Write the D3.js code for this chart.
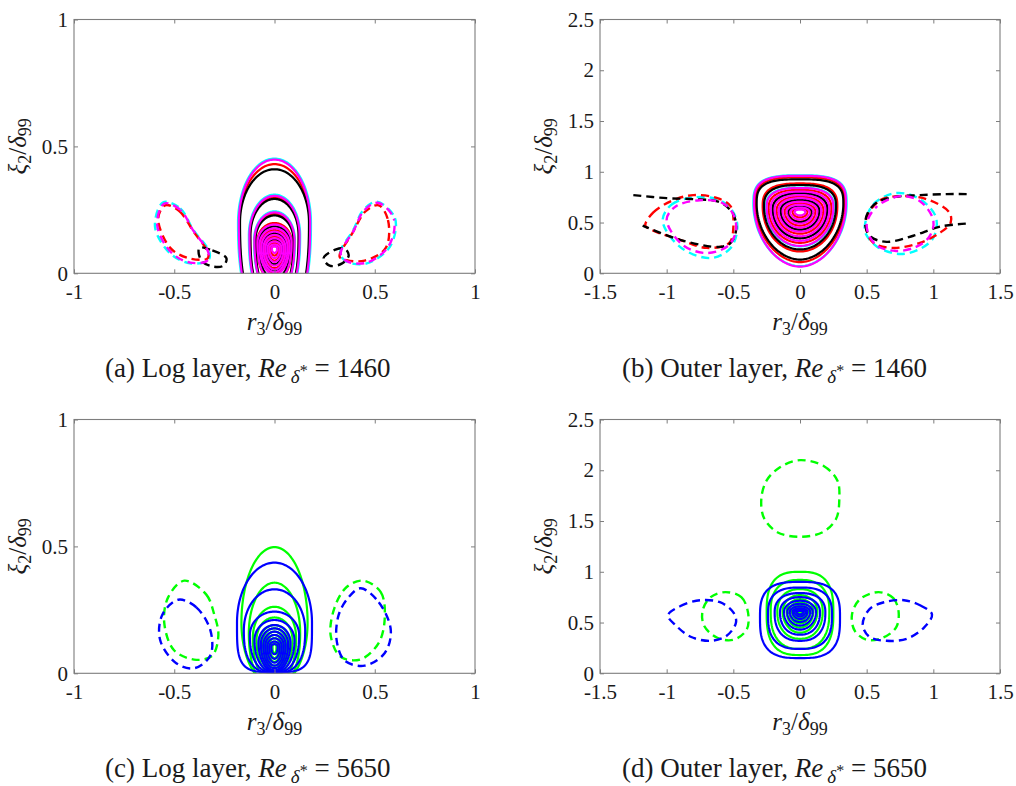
<!DOCTYPE html>
<html>
<head>
<meta charset="utf-8">
<script src="https://cdn.jsdelivr.net/npm/d3@7"></script>
<style>
  body { margin: 0; background: #fff; }
  svg { display: block; }
</style>
</head>
<body>
<svg id="fig" width="1016" height="786"></svg>
<script>
// ---------------- axis ticks ----------------
const logXTicks = [-1, -0.5, 0, 0.5, 1];
const logYTicks = [0, 0.5, 1];
const outerXTicks = [-1.5, -1, -0.5, 0, 0.5, 1, 1.5];
const outerYTicks = [0, 0.5, 1, 1.5, 2, 2.5];

// ---------------- captions ----------------
const captionLetters = ["(a)", "(b)", "(c)", "(d)"];
const captionLayers = ["Log layer", "Outer layer", "Log layer", "Outer layer"];
const captionRe = [1460, 1460, 5650, 5650];

// ---------------- contour data ----------------
// positive contours: [half width, height of widest point, top, bottom, top squareness, bottom squareness]
// negative contours: closed point lists [r3, xi2]

// (a) log layer, Re = 1460
const aRingsCyan = [
  [0.182, 0.20, 0.452, -0.20, 2, 2.4],
  [0.128, 0.15, 0.310, -0.12, 2, 2.4],
  [0.102, 0.13, 0.244, -0.08, 2, 2.3]
];
const aRingsRed = [
  [0.175, 0.20, 0.430, -0.20, 2, 2.4],
  [0.122, 0.15, 0.300, -0.12, 2, 2.4],
  [0.098, 0.13, 0.235, -0.08, 2, 2.3],
  [0.087, 0.12, 0.198, -0.03, 2, 2.2],
  [0.070, 0.11, 0.170, 0.000, 2, 2],
  [0.060, 0.105, 0.157, 0.010, 2, 2],
  [0.050, 0.10, 0.145, 0.020, 2, 2],
  [0.040, 0.10, 0.132, 0.035, 2, 2],
  [0.030, 0.10, 0.120, 0.050, 2, 2],
  [0.020, 0.10, 0.110, 0.070, 2, 2]
];
const aRingsBlack = [
  [0.172, 0.20, 0.410, -0.20, 2, 2.4],
  [0.120, 0.15, 0.293, -0.12, 2, 2.4],
  [0.095, 0.13, 0.228, -0.08, 2, 2.3],
  [0.080, 0.115, 0.185, -0.02, 2, 2.1],
  [0.060, 0.105, 0.160, 0.010, 2, 2],
  [0.040, 0.10, 0.135, 0.035, 2, 2]
];
const aRingsMagenta = [
  [0.178, 0.20, 0.448, -0.20, 2, 2.4],
  [0.125, 0.15, 0.305, -0.12, 2, 2.4],
  [0.100, 0.13, 0.240, -0.08, 2, 2.3],
  [0.085, 0.12, 0.192, -0.03, 2, 2.2],
  [0.075, 0.11, 0.177, -0.005, 2, 2],
  [0.065, 0.105, 0.164, 0.005, 2, 2],
  [0.055, 0.10, 0.151, 0.015, 2, 2],
  [0.045, 0.10, 0.138, 0.030, 2, 2],
  [0.035, 0.10, 0.125, 0.045, 2, 2],
  [0.025, 0.10, 0.113, 0.060, 2, 2],
  [0.013, 0.10, 0.105, 0.080, 2, 2]
];
const aLobesCyan = [
  [[-0.555, 0.28], [-0.47, 0.256], [-0.405, 0.171], [-0.325, 0.085], [-0.33, 0.052], [-0.421, 0.039], [-0.521, 0.079], [-0.596, 0.184]],
  [[0.51, 0.282], [0.601, 0.217], [0.576, 0.105], [0.46, 0.039], [0.36, 0.046], [0.327, 0.079], [0.393, 0.171], [0.443, 0.249]]
];
const aLobesRed = [
  [[-0.545, 0.268], [-0.475, 0.245], [-0.40, 0.16], [-0.33, 0.08], [-0.335, 0.058], [-0.43, 0.06], [-0.52, 0.10], [-0.58, 0.215]],
  [[0.52, 0.268], [0.566, 0.21], [0.555, 0.10], [0.45, 0.05], [0.36, 0.052], [0.325, 0.065], [0.39, 0.16], [0.455, 0.245]]
];
const aLobesMagenta = [
  [[-0.55, 0.275], [-0.47, 0.25], [-0.405, 0.168], [-0.33, 0.082], [-0.335, 0.05], [-0.42, 0.042], [-0.515, 0.082], [-0.585, 0.19]],
  [[0.515, 0.278], [0.595, 0.215], [0.57, 0.108], [0.46, 0.042], [0.36, 0.048], [0.33, 0.078], [0.395, 0.168], [0.445, 0.246]]
];
const aLobesBlack = [
  [[-0.375, 0.10], [-0.31, 0.09], [-0.24, 0.06], [-0.255, 0.03], [-0.31, 0.027], [-0.365, 0.05]],
  [[0.245, 0.06], [0.30, 0.092], [0.35, 0.098], [0.37, 0.07], [0.335, 0.038], [0.275, 0.03]]
];

// (b) outer layer, Re = 1460
const bRingsCyan = [
  [0.350, 0.68, 0.965, 0.070, 3.2, 1.9],
  [0.255, 0.65, 0.845, 0.265, 2.6, 2]
];
const bRingsRed = [
  [0.335, 0.68, 0.945, 0.110, 3.2, 1.9],
  [0.280, 0.66, 0.885, 0.215, 2.8, 2],
  [0.235, 0.64, 0.822, 0.300, 2.5, 2],
  [0.205, 0.63, 0.787, 0.345, 2.3, 2],
  [0.175, 0.62, 0.755, 0.390, 2.2, 2],
  [0.145, 0.615, 0.720, 0.430, 2.1, 2],
  [0.115, 0.61, 0.690, 0.470, 2, 2],
  [0.085, 0.607, 0.660, 0.510, 2, 2],
  [0.055, 0.607, 0.637, 0.550, 2, 2]
];
const bRingsBlack = [
  [0.325, 0.68, 0.925, 0.135, 3.2, 1.9],
  [0.270, 0.66, 0.870, 0.235, 2.7, 2],
  [0.205, 0.63, 0.790, 0.345, 2.3, 2],
  [0.145, 0.615, 0.725, 0.430, 2.1, 2],
  [0.090, 0.607, 0.665, 0.505, 2, 2]
];
const bRingsMagenta = [
  [0.345, 0.68, 0.960, 0.065, 3.2, 1.9],
  [0.250, 0.65, 0.840, 0.270, 2.6, 2],
  [0.220, 0.64, 0.805, 0.320, 2.4, 2],
  [0.190, 0.63, 0.770, 0.365, 2.3, 2],
  [0.160, 0.62, 0.740, 0.410, 2.2, 2],
  [0.130, 0.615, 0.705, 0.450, 2.1, 2],
  [0.100, 0.61, 0.675, 0.490, 2, 2],
  [0.070, 0.607, 0.648, 0.530, 2, 2],
  [0.040, 0.607, 0.628, 0.570, 2, 2]
];
const bLobesCyan = [
  [[-1.03, 0.52], [-0.96, 0.68], [-0.78, 0.75], [-0.6, 0.72], [-0.5, 0.6], [-0.47, 0.45], [-0.52, 0.25], [-0.67, 0.15], [-0.9, 0.26]],
  [[0.49, 0.5], [0.55, 0.68], [0.72, 0.79], [0.9, 0.73], [1.02, 0.55], [1.0, 0.35], [0.9, 0.24], [0.75, 0.19], [0.58, 0.26], [0.49, 0.4]]
];
const bLobesRed = [
  [[-1.16, 0.47], [-1.1, 0.6], [-0.95, 0.72], [-0.8, 0.77], [-0.62, 0.74], [-0.52, 0.66], [-0.5, 0.45], [-0.53, 0.3], [-0.7, 0.25], [-0.9, 0.33], [-1.1, 0.42]],
  [[0.5, 0.55], [0.6, 0.72], [0.75, 0.76], [0.95, 0.73], [1.12, 0.6], [1.13, 0.5], [1.05, 0.4], [0.9, 0.3], [0.7, 0.25], [0.55, 0.3], [0.5, 0.42]]
];
const bLobesMagenta = [
  [[-1.0, 0.53], [-0.93, 0.66], [-0.75, 0.72], [-0.58, 0.69], [-0.5, 0.58], [-0.48, 0.42], [-0.54, 0.27], [-0.7, 0.2], [-0.88, 0.28]],
  [[0.5, 0.47], [0.57, 0.65], [0.75, 0.76], [0.9, 0.71], [1.0, 0.52], [0.97, 0.36], [0.87, 0.26], [0.72, 0.22], [0.57, 0.28]]
];
// open negative contours (reaching the sides of the domain)
const bOpenBlack = [
  [[-1.25, 0.77], [-1.0, 0.74], [-0.8, 0.73], [-0.6, 0.7], [-0.5, 0.58], [-0.48, 0.42], [-0.52, 0.3], [-0.6, 0.26], [-0.9, 0.33], [-1.18, 0.47]],
  [[1.25, 0.78], [1.1, 0.78], [0.9, 0.77], [0.7, 0.75], [0.58, 0.7], [0.51, 0.6], [0.49, 0.47], [0.53, 0.36], [0.65, 0.31], [0.85, 0.37], [1.05, 0.46], [1.25, 0.49]]
];

// (c) log layer, Re = 5650
const cRingsGreen = [
  [0.165, 0.20, 0.497, -0.05, 2, 2],
  [0.128, 0.16, 0.357, -0.06, 2, 2.2],
  [0.108, 0.14, 0.262, -0.04, 2, 2.1],
  [0.090, 0.13, 0.220, -0.01, 2, 2],
  [0.075, 0.12, 0.190, 0.000, 2, 2],
  [0.062, 0.115, 0.177, 0.010, 2, 2],
  [0.050, 0.11, 0.164, 0.020, 2, 2],
  [0.040, 0.108, 0.151, 0.030, 2, 2],
  [0.030, 0.106, 0.138, 0.045, 2, 2],
  [0.020, 0.105, 0.125, 0.060, 2, 2],
  [0.010, 0.105, 0.115, 0.080, 2, 2]
];
const cRingsBlue = [
  [0.187, 0.20, 0.436, 0.005, 2, 4],
  [0.153, 0.17, 0.331, 0.000, 2, 2.6],
  [0.123, 0.15, 0.243, 0.000, 2, 2.3],
  [0.100, 0.13, 0.210, 0.003, 2, 2.1],
  [0.080, 0.12, 0.190, 0.006, 2, 2],
  [0.068, 0.115, 0.177, 0.012, 2, 2],
  [0.056, 0.11, 0.164, 0.020, 2, 2],
  [0.046, 0.108, 0.151, 0.030, 2, 2],
  [0.036, 0.106, 0.138, 0.042, 2, 2],
  [0.026, 0.105, 0.125, 0.057, 2, 2],
  [0.016, 0.105, 0.115, 0.075, 2, 2]
];
const cLobesGreen = [
  [[-0.45, 0.365], [-0.34, 0.31], [-0.3, 0.23], [-0.28, 0.15], [-0.31, 0.07], [-0.39, 0.053], [-0.5, 0.09], [-0.55, 0.2], [-0.53, 0.3]],
  [[0.44, 0.365], [0.53, 0.32], [0.55, 0.22], [0.52, 0.12], [0.43, 0.055], [0.33, 0.065], [0.28, 0.15], [0.3, 0.26], [0.36, 0.34]]
];
const cLobesBlue = [
  [[-0.48, 0.29], [-0.39, 0.26], [-0.32, 0.17], [-0.32, 0.07], [-0.4, 0.02], [-0.49, 0.04], [-0.57, 0.13], [-0.56, 0.23]],
  [[0.43, 0.335], [0.52, 0.28], [0.58, 0.17], [0.55, 0.08], [0.45, 0.03], [0.35, 0.05], [0.31, 0.13], [0.32, 0.23], [0.37, 0.3]]
];

// (d) outer layer, Re = 5650
const dRingsGreen = [
  [0.250, 0.60, 1.000, 0.180, 2.8, 2.8],
  [0.220, 0.61, 0.920, 0.240, 2.5, 2.5],
  [0.170, 0.61, 0.830, 0.340, 2.2, 2.2],
  [0.130, 0.61, 0.770, 0.400, 2, 2],
  [0.100, 0.61, 0.730, 0.450, 2, 2],
  [0.080, 0.61, 0.700, 0.490, 2, 2],
  [0.060, 0.61, 0.675, 0.520, 2, 2],
  [0.045, 0.61, 0.655, 0.545, 2, 2],
  [0.030, 0.61, 0.635, 0.570, 2, 2],
  [0.015, 0.61, 0.620, 0.590, 2, 2]
];
const dRingsBlue = [
  [0.300, 0.55, 0.900, 0.150, 3, 3],
  [0.240, 0.58, 0.845, 0.240, 2.7, 2.7],
  [0.190, 0.60, 0.790, 0.320, 2.4, 2.4],
  [0.150, 0.60, 0.750, 0.380, 2.2, 2.2],
  [0.120, 0.605, 0.715, 0.430, 2, 2],
  [0.095, 0.605, 0.685, 0.470, 2, 2],
  [0.075, 0.607, 0.660, 0.505, 2, 2],
  [0.055, 0.607, 0.640, 0.535, 2, 2],
  [0.040, 0.607, 0.625, 0.560, 2, 2],
  [0.025, 0.607, 0.615, 0.580, 2, 2]
];
const dLobesGreen = [
  [[0, 2.1], [0.18, 2.04], [0.28, 1.9], [0.295, 1.72], [0.27, 1.52], [0.17, 1.39], [0, 1.345], [-0.17, 1.39], [-0.27, 1.53], [-0.29, 1.72], [-0.25, 1.9], [-0.15, 2.03]],
  [[-0.56, 0.8], [-0.44, 0.75], [-0.39, 0.6], [-0.4, 0.43], [-0.5, 0.33], [-0.62, 0.35], [-0.72, 0.47], [-0.73, 0.62], [-0.67, 0.75]],
  [[0.59, 0.8], [0.7, 0.74], [0.74, 0.6], [0.72, 0.45], [0.62, 0.35], [0.5, 0.33], [0.41, 0.42], [0.39, 0.58], [0.45, 0.73]]
];
const dLobesBlue = [
  [[-0.99, 0.57], [-0.9, 0.66], [-0.75, 0.72], [-0.6, 0.7], [-0.5, 0.6], [-0.48, 0.5], [-0.55, 0.37], [-0.67, 0.32], [-0.82, 0.36], [-0.93, 0.47]],
  [[0.78, 0.72], [0.9, 0.67], [0.99, 0.58], [0.93, 0.45], [0.8, 0.34], [0.65, 0.32], [0.52, 0.36], [0.47, 0.48], [0.52, 0.63], [0.63, 0.7]]
];

// ---------------- colours ----------------
const COL = {
  cyan: "#00ffff", magenta: "#ff00ff", red: "#ff0000", black: "#000000",
  green: "#00ff00", blue: "#0000ff"
};

// ---------------- layout ----------------
const panelBoxes = [
  { x0: 74, x1: 475, y0: 19.5, y1: 273.3 },
  { x0: 600, x1: 1000, y0: 19.5, y1: 273.3 },
  { x0: 74, x1: 475, y0: 419.5, y1: 673.3 },
  { x0: 600, x1: 1000, y0: 419.5, y1: 673.3 }
];

const svg = d3.select("#fig");
const SERIF = "'Liberation Serif', 'Times New Roman', serif";
const AXIS_GREY = "#7d7d7d";
const TEXT_COL = "#1a1a1a";

// closed ring outline from its extents
function ringPoints(r) {
  const [hw, yc, top, bot, nTop, nBot] = r;
  const N = 160;
  return d3.range(N).map(i => {
    const t = (i / N) * 2 * Math.PI;
    const s = Math.sin(t), c = Math.cos(t);
    const upper = c >= 0;
    const e = 2 / (upper ? nTop : nBot);
    const x = hw * Math.sign(s) * Math.pow(Math.abs(s), e);
    const ry = upper ? top - yc : yc - bot;
    const y = yc + ry * Math.sign(c) * Math.pow(Math.abs(c), e);
    return [x, y];
  });
}

function drawPanel(idx, xDomain, yDomain, xTicks, yTicks, layers) {
  const b = panelBoxes[idx];
  const x = d3.scaleLinear().domain(xDomain).range([b.x0, b.x1]);
  const y = d3.scaleLinear().domain(yDomain).range([b.y1, b.y0]);
  const g = svg.append("g");

  const clipId = "clip" + idx;
  svg.append("clipPath").attr("id", clipId)
    .append("rect").attr("x", b.x0).attr("y", b.y0)
    .attr("width", b.x1 - b.x0).attr("height", b.y1 - b.y0);

  const plot = g.append("g").attr("clip-path", `url(#${clipId})`);
  const ringLine = d3.line().x(d => x(d[0])).y(d => y(d[1])).curve(d3.curveLinearClosed);
  const lobeLine = d3.line().x(d => x(d[0])).y(d => y(d[1])).curve(d3.curveCatmullRomClosed.alpha(0.5));
  const openLine = d3.line().x(d => x(d[0])).y(d => y(d[1])).curve(d3.curveCatmullRom.alpha(0.5));

  layers.forEach(L => {
    if (L.rings) {
      plot.append("g").selectAll("path").data(L.rings).join("path")
        .attr("d", r => ringLine(ringPoints(r)))
        .attr("fill", "none").attr("stroke", L.color)
        .attr("stroke-width", L.width || 2.2);
    }
    if (L.lobes) {
      plot.append("g").selectAll("path").data(L.lobes).join("path")
        .attr("d", p => lobeLine(p))
        .attr("fill", "none").attr("stroke", L.color)
        .attr("stroke-width", 2.4)
        .attr("stroke-dasharray", "8 5")
        .attr("stroke-dashoffset", L.offset || 0);
    }
    if (L.open) {
      plot.append("g").selectAll("path").data(L.open).join("path")
        .attr("d", p => openLine(p))
        .attr("fill", "none").attr("stroke", L.color)
        .attr("stroke-width", 2.4)
        .attr("stroke-dasharray", "8 5");
    }
  });

  // box
  g.append("rect").attr("x", b.x0).attr("y", b.y0)
    .attr("width", b.x1 - b.x0).attr("height", b.y1 - b.y0)
    .attr("fill", "none").attr("stroke", AXIS_GREY).attr("stroke-width", 1.1);

  const fmt = v => String(v);
  const styleAxis = sel => {
    sel.attr("font-family", SERIF).attr("font-size", 21);
    sel.select(".domain").remove();
    sel.selectAll(".tick line").attr("stroke", AXIS_GREY).attr("stroke-width", 1);
    sel.selectAll(".tick text").attr("fill", TEXT_COL);
  };
  g.append("g").attr("transform", `translate(0,${b.y1})`)
    .call(d3.axisBottom(x).tickValues(xTicks).tickFormat(fmt).tickSize(-4).tickPadding(11))
    .call(styleAxis);
  g.append("g").attr("transform", `translate(0,${b.y0})`)
    .call(d3.axisTop(x).tickValues(xTicks).tickFormat("").tickSize(-4))
    .call(styleAxis);
  g.append("g").attr("transform", `translate(${b.x0},0)`)
    .call(d3.axisLeft(y).tickValues(yTicks).tickFormat(fmt).tickSize(-4).tickPadding(6))
    .call(styleAxis);
  g.append("g").attr("transform", `translate(${b.x1},0)`)
    .call(d3.axisRight(y).tickValues(yTicks).tickFormat("").tickSize(-4))
    .call(styleAxis);

  // x label  r3/δ99
  const cx = (b.x0 + b.x1) / 2;
  const xl = g.append("text").attr("x", cx).attr("y", b.y1 + 57)
    .attr("text-anchor", "middle").attr("font-family", SERIF)
    .attr("font-size", 25).attr("fill", TEXT_COL);
  xl.append("tspan").attr("font-style", "italic").text("r");
  xl.append("tspan").attr("font-size", 18).attr("dy", 5).text("3");
  xl.append("tspan").attr("dy", -5).text("/");
  xl.append("tspan").attr("font-style", "italic").text("δ");
  xl.append("tspan").attr("font-size", 18).attr("dy", 5).text("99");

  // y label  ξ2/δ99
  const cy = (b.y0 + b.y1) / 2;
  const lx = b.x0 - 48;
  const yl = g.append("text")
    .attr("transform", `translate(${lx},${cy}) rotate(-90)`)
    .attr("text-anchor", "middle").attr("font-family", SERIF)
    .attr("font-size", 25).attr("fill", TEXT_COL);
  yl.append("tspan").attr("font-style", "italic").text("ξ");
  yl.append("tspan").attr("font-size", 18).attr("dy", 5).text("2");
  yl.append("tspan").attr("dy", -5).text("/");
  yl.append("tspan").attr("font-style", "italic").text("δ");
  yl.append("tspan").attr("font-size", 18).attr("dy", 5).text("99");

  // caption
  const capX = idx % 2 === 0 ? 105 : 622;
  const capY = b.y1 + 104;
  const cap = g.append("text").attr("x", capX).attr("y", capY)
    .attr("font-family", SERIF).attr("font-size", 27).attr("fill", TEXT_COL);
  cap.append("tspan").text(`${captionLetters[idx]} ${captionLayers[idx]}, `);
  cap.append("tspan").attr("font-style", "italic").text("Re");
  cap.append("tspan").attr("font-style", "italic").attr("font-size", 19)
    .attr("dx", 4).attr("dy", 6).text("δ");
  cap.append("tspan").attr("font-size", 16).attr("dy", -7).text("*");
  cap.append("tspan").attr("dy", 1).text(` = ${captionRe[idx]}`);
}

drawPanel(0, [-1, 1], [0, 1], logXTicks, logYTicks, [
  { color: COL.cyan, rings: aRingsCyan, lobes: aLobesCyan },
  { color: COL.red, rings: aRingsRed, lobes: aLobesRed },
  { color: COL.black, rings: aRingsBlack, lobes: aLobesBlack },
  { color: COL.magenta, rings: aRingsMagenta, lobes: aLobesMagenta, offset: 6 }
]);

drawPanel(1, [-1.5, 1.5], [0, 2.5], outerXTicks, outerYTicks, [
  { color: COL.cyan, rings: bRingsCyan, lobes: bLobesCyan },
  { color: COL.red, rings: bRingsRed, lobes: bLobesRed },
  { color: COL.black, rings: bRingsBlack, open: bOpenBlack },
  { color: COL.magenta, rings: bRingsMagenta, lobes: bLobesMagenta, offset: 6 }
]);

drawPanel(2, [-1, 1], [0, 1], logXTicks, logYTicks, [
  { color: COL.green, rings: cRingsGreen, lobes: cLobesGreen },
  { color: COL.blue, rings: cRingsBlue, lobes: cLobesBlue }
]);

drawPanel(3, [-1.5, 1.5], [0, 2.5], outerXTicks, outerYTicks, [
  { color: COL.green, rings: dRingsGreen, lobes: dLobesGreen },
  { color: COL.blue, rings: dRingsBlue, lobes: dLobesBlue }
]);
</script>
</body>
</html>
